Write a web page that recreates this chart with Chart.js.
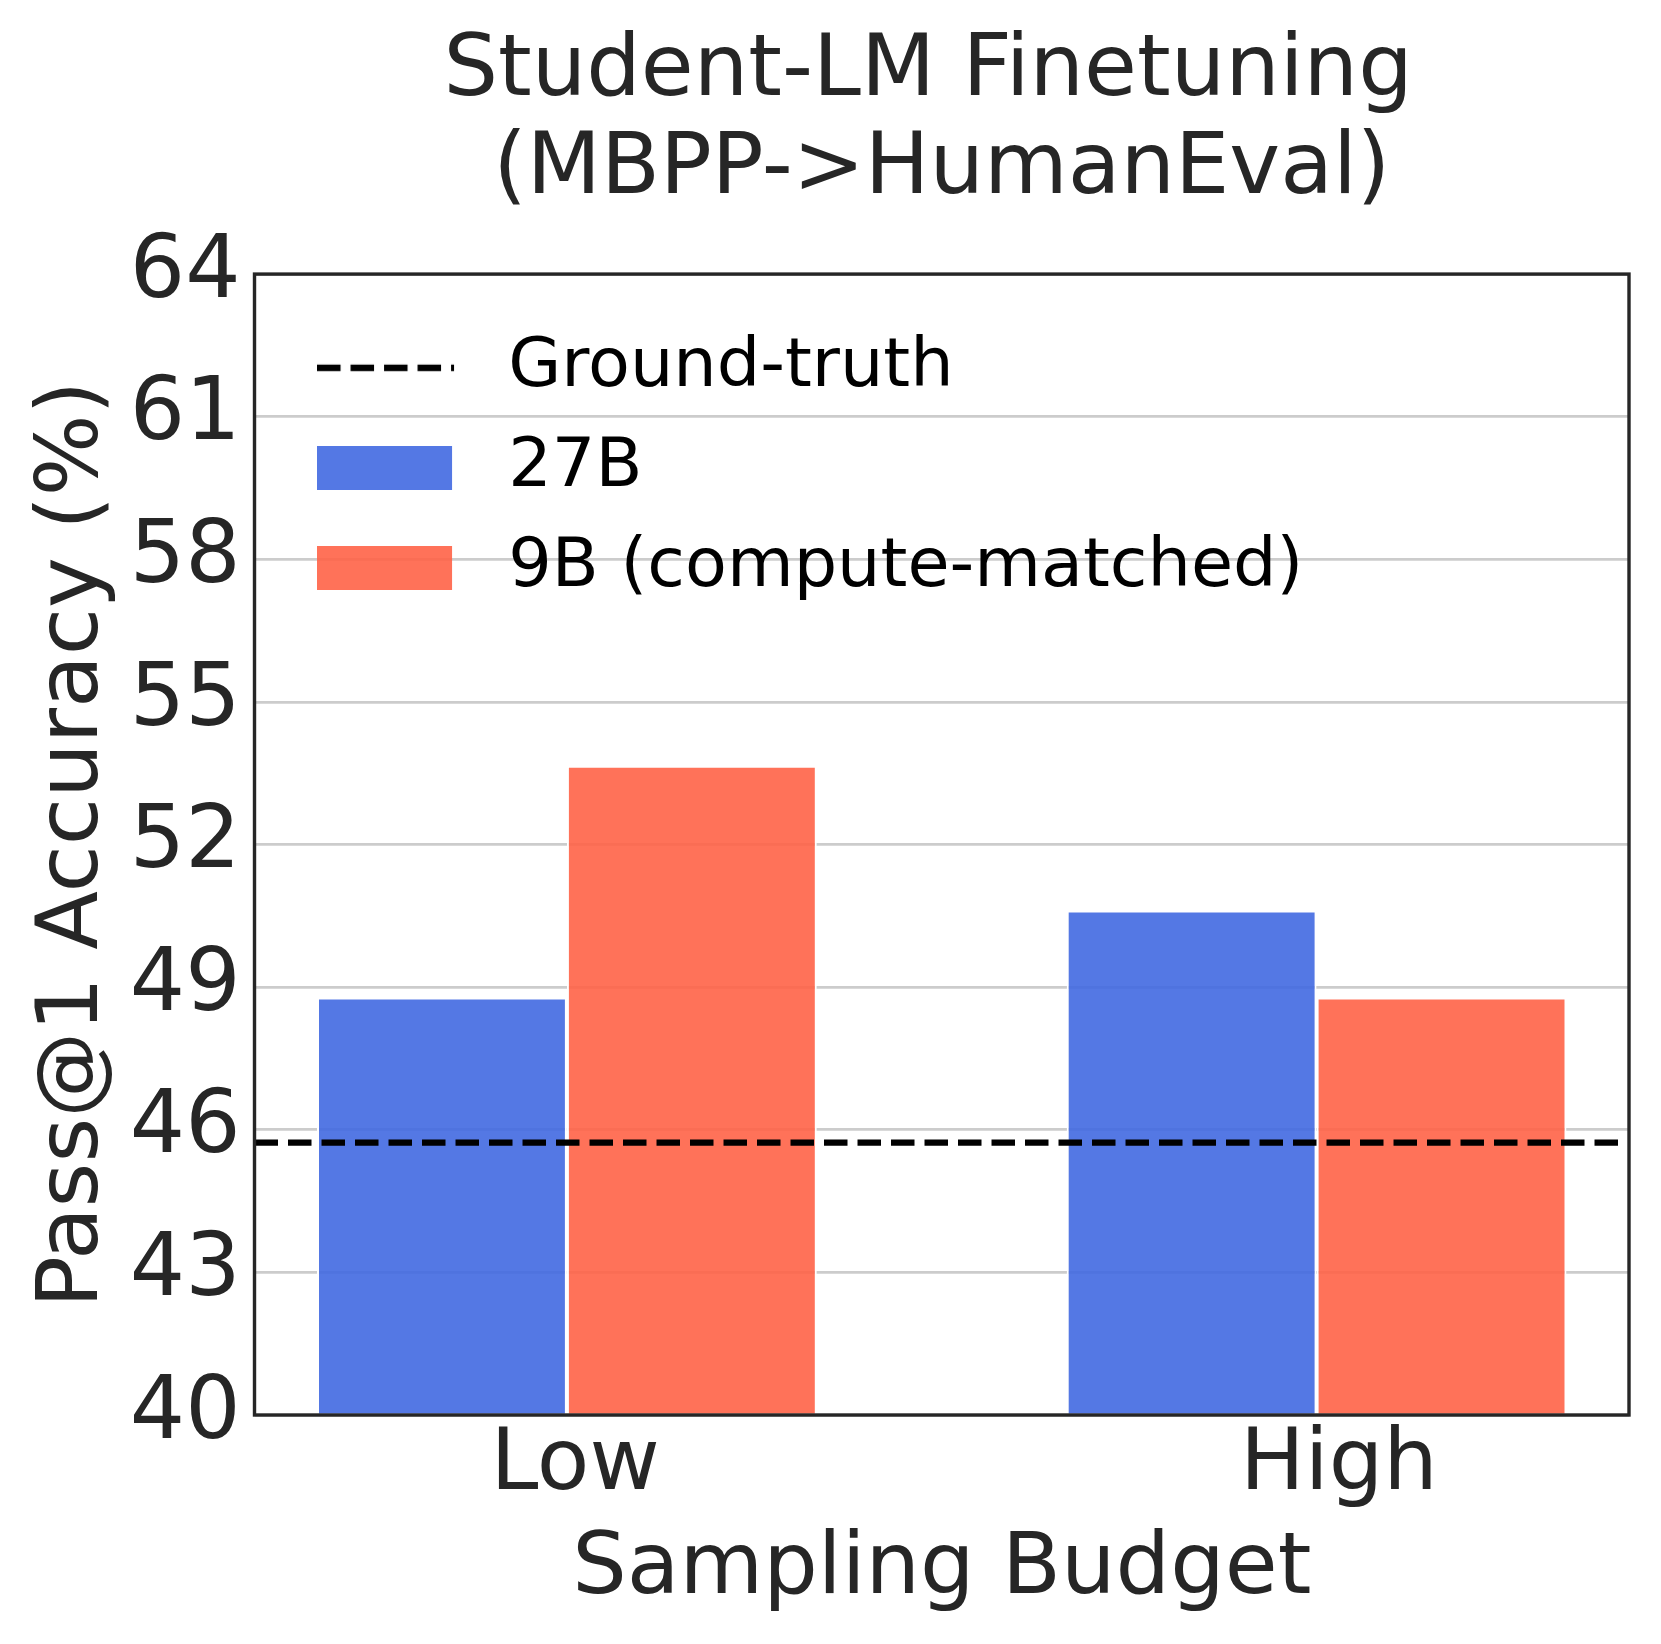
<!DOCTYPE html>
<html>
<head>
<meta charset="utf-8">
<title>Student-LM Finetuning (MBPP->HumanEval)</title>
<script src="https://cdn.jsdelivr.net/npm/chart.js@4.4.1/dist/chart.umd.min.js"></script>
<style>
  html, body { margin: 0; padding: 0; background: #fff; }
  #wrap { width: 1661px; height: 1644px; }
</style>
</head>
<body>
<div id="wrap"><canvas id="chart" width="1661" height="1644"></canvas></div>
<script>
// values (pass@1 on HumanEval, %)
const budgets = ['Low', 'High']
const acc27B = [48.78, 50.61]
const acc9B = [53.66, 48.78]
const groundTruth = [45.73]
const seriesLabels = ['Ground-truth', '27B', '9B (compute-matched)']
const yTicks = [40, 43, 46, 49, 52, 55, 58, 61, 64]

const TEXT = '#262626'
const FONT = "'DejaVu Sans', sans-serif"
Chart.defaults.font.family = FONT
Chart.defaults.color = TEXT

// x limits like matplotlib's default margins around the bar groups
const xMin = -0.4167
const xMax = 1.4167

function toPoints(values) {
  return values.map(function (v, i) { return { x: i, y: v } })
}

// legend handle drawn into a small canvas so the text sits where matplotlib puts it
function legendGlyph(ds) {
  const c = document.createElement('canvas')
  c.width = 157
  c.height = 44
  const g = c.getContext('2d')
  if (ds.type === 'line') {
    g.strokeStyle = ds.borderColor
    g.lineWidth = ds.borderWidth
    g.setLineDash(ds.borderDash)
    g.beginPath()
    g.moveTo(0, 22)
    g.lineTo(137, 22)
    g.stroke()
  } else {
    g.fillStyle = ds.backgroundColor
    g.fillRect(0, 0, 135, 44)
  }
  return c
}

// put the legend inside the axes, upper left
const legendPlacer = {
  id: 'legendPlacer',
  beforeDraw(chart) {
    const lg = chart.legend
    const a = chart.chartArea
    lg.left = a.left + 31
    lg.top = a.top + 28
    lg.right = a.right
    lg.bottom = a.bottom
    lg.width = lg.right - lg.left
    lg.height = lg.bottom - lg.top
  }
}

// dark box around the plot area
const frame = {
  id: 'frame',
  afterDatasetsDraw(chart) {
    const { ctx, chartArea: a } = chart
    ctx.save()
    ctx.strokeStyle = TEXT
    ctx.lineWidth = 3.4
    ctx.strokeRect(a.left, a.top, a.width, a.height)
    ctx.restore()
  }
}

new Chart(document.getElementById('chart'), {
  type: 'bar',
  data: {
    datasets: [
      {
        type: 'line',
        label: seriesLabels[0],
        data: [{ x: xMin, y: groundTruth[0] }, { x: xMax, y: groundTruth[0] }],
        borderColor: '#000000',
        borderWidth: 6.3,
        borderDash: [23.5, 10],
        pointRadius: 0,
        fill: false
      },
      {
        label: seriesLabels[1],
        data: toPoints(acc27B),
        backgroundColor: 'rgba(65, 105, 225, 0.9)',
        borderColor: '#ffffff',
        borderWidth: 2,
        base: yTicks[0]
      },
      {
        label: seriesLabels[2],
        data: toPoints(acc9B),
        backgroundColor: 'rgba(255, 99, 71, 0.9)',
        borderColor: '#ffffff',
        borderWidth: 2,
        base: yTicks[0]
      }
    ]
  },
  options: {
    responsive: false,
    animation: false,
    events: [],
    datasets: {
      bar: { categoryPercentage: 2 / 3, barPercentage: 1 }
    },
    layout: { padding: { left: 30.8, right: 32, top: 0, bottom: 21.6 } },
    scales: {
      x: {
        type: 'linear',
        min: xMin,
        max: xMax,
        offset: false,
        grid: { display: false, drawTicks: false },
        border: { display: false },
        afterBuildTicks: function (axis) {
          axis.ticks = budgets.map(function (b, i) { return { value: i } })
        },
        ticks: {
          callback: function (v) { return budgets[v] },
          font: { size: 86, lineHeight: 1.2 },
          padding: 0,
          align: 'start',
          labelOffset: -76.5,
          maxRotation: 0,
          autoSkip: false
        },
        title: {
          display: true,
          text: 'Sampling Budget',
          font: { size: 86, lineHeight: 1.2 },
          padding: { top: 1, bottom: 0 }
        }
      },
      y: {
        min: yTicks[0],
        max: yTicks[yTicks.length - 1],
        beginAtZero: false,
        afterBuildTicks: function (axis) {
          axis.ticks = yTicks.map(function (v) { return { value: v } })
        },
        grid: { color: '#cccccc', lineWidth: 2.7, drawTicks: false },
        border: { display: false },
        ticks: { font: { size: 87 }, padding: 14 },
        title: {
          display: true,
          text: 'Pass@1 Accuracy (%)',
          font: { size: 86, lineHeight: 1.0 },
          padding: { top: 0, bottom: -2 }
        }
      }
    },
    plugins: {
      title: {
        display: true,
        fullSize: false,
        text: ['Student-LM Finetuning ', '(MBPP->HumanEval)'],
        font: { size: 86, weight: 'normal', lineHeight: 1.14 },
        color: TEXT,
        padding: { top: 23.6, bottom: 54.4 }
      },
      legend: {
        position: 'left',
        align: 'start',
        maxWidth: 1,
        labels: {
          usePointStyle: true,
          pointStyleWidth: 157,
          boxHeight: 44,
          padding: 31.5,
          color: TEXT,
          font: { size: 68.5 },
          generateLabels: function (chart) {
            return chart.data.datasets.map(function (ds, i) {
              return {
                text: ds.label,
                pointStyle: legendGlyph(ds),
                fillStyle: 'transparent',
                strokeStyle: 'transparent',
                lineWidth: 0,
                hidden: false,
                datasetIndex: i
              }
            })
          }
        }
      },
      tooltip: { enabled: false }
    }
  },
  plugins: [legendPlacer, frame]
})
</script>
</body>
</html>
